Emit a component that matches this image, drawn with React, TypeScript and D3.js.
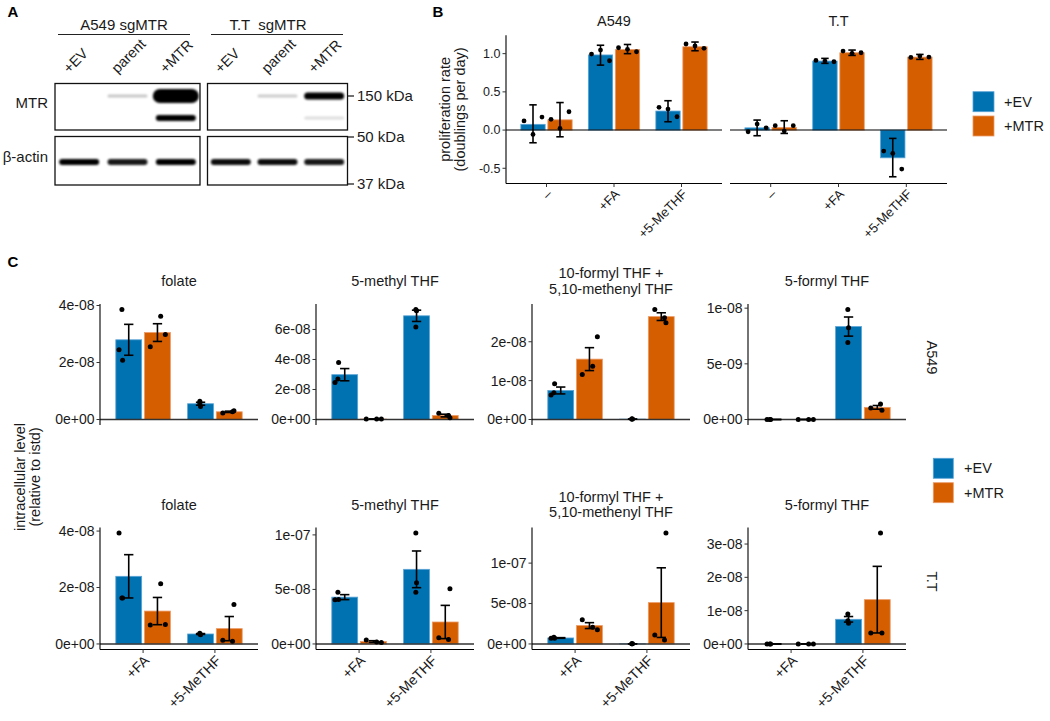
import React from "react";
import * as d3 from "d3";

const FONT = "'Liberation Sans', Arimo, Arial, Helvetica, sans-serif";
const COLORS = ["#0072B2", "#D55E00"];
const EDGES = ["#5aa3d6", "#ec9a66"];
const TXT = "#1a1a1a";

// ---------------- Panel A : western blot ----------------
const blotTitles = ["A549 sgMTR", "T.T  sgMTR"];
const blotLanes = ["+EV", "parent", "+MTR"];
const blotRows = ["MTR", "β-actin"];
// band darkness per blot (A549, T.T) and lane
const mtrUpperBand = [[0, 0.22, 1], [0, 0.2, 1]];
const mtrLowerBand = [[0, 0, 1], [0, 0, 0.13]];
const actinBand = [[1, 0.9, 1], [0.95, 0.95, 0.9]];
const markerLabels = ["150 kDa", "50 kDa", "37 kDa"];

// ---------------- Panel B : proliferation ----------------
const groups = ["+EV", "+MTR"];
const profCells = ["A549", "T.T"];
const profConds = ["–", "+FA", "+5-MeTHF"];
// [cell][group][condition]
const profMean = [
  [[0.075, 0.983, 0.249], [0.134, 1.053, 1.09]],
  [[0.029, 0.903, -0.363], [0.034, 1.012, 0.955]],
];
const profLow = [
  [[-0.166, 0.85, 0.109], [-0.088, 1.0, 1.038]],
  [[-0.074, 0.873, -0.611], [-0.044, 0.977, 0.925]],
];
const profHigh = [
  [[0.33, 1.11, 0.384], [0.36, 1.12, 1.152]],
  [[0.131, 0.938, -0.109], [0.122, 1.047, 0.99]],
];
// [cell][group][condition] -> replicates
const profPoints = [
  [
    [[0.12, -0.057, 0.17], [0.995, 1.047, 0.907], [0.297, 0.275, 0.174]],
    [[0.14, 0.022, 0.24], [1.077, 1.056, 1.025], [1.126, 1.1, 1.07]],
  ],
  [
    [[-0.022, 0.079, 0.03], [0.912, 0.903, 0.894], [-0.275, -0.305, -0.51]],
    [[0.057, -0.013, 0.057], [1.034, 1.004, 1.012], [0.951, 0.968, 0.955]],
  ],
];
const profTicks = [-0.5, 0, 0.5, 1.0];
const profTickLabels = ["-0.5", "0.0", "0.5", "1.0"];
const profJitter = [-0.133, 0, 0.133];

// ---------------- Panel C : folate species ----------------
const metabolites = ["folate", "5-methyl THF", "10-formyl THF +\n5,10-methenyl THF", "5-formyl THF"];
const metCells = ["A549", "T.T"];
const treatments = ["+FA", "+5-MeTHF"];
const UNIT = 1e-8;
// [metabolite][group][treatment] -> replicates, in units of 1e-8
const a549Points = [
  [[[2.45, 3.86, 2.08], [0.64, 0.46, 0.56]], [[2.55, 3.62, 2.98], [0.23, 0.27, 0.31]]],
  [[[2.47, 2.7, 3.79], [7.33, 7.24, 6.16]], [[0.03, 0.03, 0.03], [0.42, 0.26, 0.11]]],
  [[[0.63, 0.69, 0.92], [0.01, 0.01, 0.01]], [[1.16, 1.37, 2.13], [2.83, 2.62, 2.49]]],
  [[[0, 0, 0], [0.988, 0.825, 0.691]], [[0, 0, 0], [0.104, 0.14, 0.083]]],
];
const ttPoints = [
  [[[3.93, 1.63, 1.63], [0.38, 0.33, 0.35]], [[0.675, 2.13, 0.69], [0.13, 0.1, 1.4]]],
  [[[4.05, 4.75, 4.08], [10.17, 5.61, 4.75]], [[0.37, 0.17, 0.13], [0.58, 0.4, 5.06]]],
  [[[0.7, 0.82, 0.7], [0.02, 0.02, 0.02]], [[2.98, 2.06, 1.77], [1.12, 0.5, 13.72]]],
  [[[0, 0, 0], [0.9, 0.62, 0.7]], [[0, 0, 0], [0.33, 3.33, 0.33]]],
];
const metPoints = [a549Points, ttPoints];
// y ticks per [cell][metabolite], in units of 1e-8
const metTicks = [
  [[0, 2, 4], [0, 2, 4, 6], [0, 1, 2], [0, 0.5, 1]],
  [[0, 2, 4], [0, 5, 10], [0, 5, 10], [0, 1, 2, 3]],
];
// horizontal jitter per [group][treatment] (fraction of category step)
const metJitter = [
  [[-0.135, -0.095, -0.085], [-0.01, 0, -0.01]],
  [[-0.1, 0.045, 0.11], [-0.09, 0.045, 0.065]],
];

function sci(v: number): string {
  if (Math.abs(v) < 1e-20) return "0e+00";
  const e = Math.floor(Math.log10(Math.abs(v)) + 1e-9);
  const m = Math.round(v / Math.pow(10, e));
  const s = e < 0 ? "-" : "+";
  return `${m}e${s}${String(Math.abs(e)).padStart(2, "0")}`;
}

// ---------------- layout ----------------
const B = { top: 35.3, bottom: 183.5, panels: [[506, 722], [730, 947]] };
const C = { x0: 100, colStep: 216, width: 158, rows: [[304, 425], [527.5, 649.5]] };

function BlotPanel() {
  const boxes = [[55, 200], [207.5, 347.5]];
  const rowBoxes = [[83.5, 130], [136.5, 185]];
  const els: React.ReactNode[] = [];
  const titleX = [124, 268];
  const lineX = [[58, 190], [211, 343]];
  boxes.forEach(([x0, x1], bi) => {
    const lane = d3.scalePoint<string>().domain(blotLanes).range([x0, x1]).padding(0.5);
    els.push(
      <text key={`bt${bi}`} x={titleX[bi]} y={30} fontSize={15} textAnchor="middle" fill={TXT} style={{ whiteSpace: "pre" }}>
        {blotTitles[bi]}
      </text>,
      <line key={`bl${bi}`} x1={lineX[bi][0]} x2={lineX[bi][1]} y1={34.5} y2={34.5} stroke="#222" strokeWidth={1} />
    );
    blotLanes.forEach((ln, li) => {
      const cx = lane(ln)!;
      els.push(
        <text key={`ln${bi}${li}`} x={cx - 10} y={74} fontSize={14.5} fill={TXT} transform={`rotate(-45 ${cx - 10} 74)`}>
          {ln}
        </text>
      );
      const up = mtrUpperBand[bi][li];
      if (up > 0) {
        const strong = up >= 1;
        const h = strong ? (bi === 0 ? 14 : 7) : 3;
        const w = strong && bi === 0 ? 46 : 40;
        els.push(<rect key={`mu${bi}${li}`} x={cx - w / 2} y={96 - h / 2} width={w} height={h} rx={h / 2} fill="#000" opacity={up} filter="url(#blur)" />);
      }
      const lo = mtrLowerBand[bi][li];
      if (lo > 0) {
        const h = lo >= 1 ? 6 : 3;
        els.push(<rect key={`ml${bi}${li}`} x={cx - 20} y={118 - h / 2} width={40} height={h} rx={h / 2} fill="#000" opacity={lo} filter="url(#blur)" />);
      }
      const ac = actinBand[bi][li];
      els.push(<rect key={`ac${bi}${li}`} x={cx - 20} y={162 - 3} width={40} height={6} rx={3} fill="#000" opacity={ac} filter="url(#blur)" />);
    });
    rowBoxes.forEach(([y0, y1], ri) => {
      els.push(<rect key={`bx${bi}${ri}`} x={x0} y={y0} width={x1 - x0} height={y1 - y0} fill="none" stroke="#111" strokeWidth={1.3} />);
    });
  });
  blotRows.forEach((r, ri) => {
    const [y0, y1] = rowBoxes[ri];
    els.push(
      <text key={`rl${ri}`} x={48} y={(y0 + y1) / 2 - 4} dy="0.35em" fontSize={15} textAnchor="end" fill={TXT}>
        {r}
      </text>
    );
  });
  const markerY = [96, 137, 184];
  markerLabels.forEach((m, mi) => {
    els.push(
      <line key={`mk${mi}`} x1={348} x2={354} y1={markerY[mi]} y2={markerY[mi]} stroke="#111" strokeWidth={1.2} />,
      <text key={`mt${mi}`} x={357} y={markerY[mi]} dy="0.35em" fontSize={15} fill={TXT}>
        {m}
      </text>
    );
  });
  return <g>{els}</g>;
}

function ProliferationPanel() {
  const all: number[] = [0];
  profCells.forEach((_, ci) =>
    groups.forEach((_, gi) =>
      profConds.forEach((_, ki) => {
        all.push(profLow[ci][gi][ki], profHigh[ci][gi][ki], profMean[ci][gi][ki], ...profPoints[ci][gi][ki]);
      })
    )
  );
  const [lo, hi] = d3.extent(all) as [number, number];
  const pad = (hi - lo) * 0.05;
  const y = d3.scaleLinear().domain([lo - pad, hi + pad]).range([B.bottom, B.top]);
  const els: React.ReactNode[] = [];
  profCells.forEach((cell, ci) => {
    const [x0, x1] = B.panels[ci];
    const x = d3.scalePoint<string>().domain(profConds).range([x0, x1]).padding(0.6);
    const step = x.step();
    const bw = 0.36 * step;
    els.push(
      <text key={`t${ci}`} x={(x0 + x1) / 2} y={B.top - 14.6} dy="0.35em" fontSize={14.5} textAnchor="middle" fill={TXT}>
        {cell}
      </text>
    );
    profConds.forEach((cond, ki) => {
      groups.forEach((g, gi) => {
        const cx = x(cond)! + (gi === 0 ? -0.2 : 0.2) * step;
        const m = profMean[ci][gi][ki];
        els.push(
          <rect key={`b${ci}${ki}${gi}`} x={cx - bw / 2} y={y(Math.max(0, m))} width={bw} height={Math.abs(y(m) - y(0))} fill={COLORS[gi]} stroke={EDGES[gi]} strokeWidth={0.8} />
        );
      });
    });
    els.push(<line key={`h${ci}`} x1={x0} x2={x1} y1={y(0)} y2={y(0)} stroke="#000" strokeWidth={1.1} />);
    profConds.forEach((cond, ki) => {
      groups.forEach((g, gi) => {
        const cx = x(cond)! + (gi === 0 ? -0.2 : 0.2) * step;
        const yl = y(profLow[ci][gi][ki]);
        const yh = y(profHigh[ci][gi][ki]);
        const cw = 0.055 * step;
        els.push(
          <g key={`e${ci}${ki}${gi}`} stroke="#000" strokeWidth={1.6}>
            <line x1={cx} x2={cx} y1={yl} y2={yh} />
            <line x1={cx - cw} x2={cx + cw} y1={yl} y2={yl} />
            <line x1={cx - cw} x2={cx + cw} y1={yh} y2={yh} />
          </g>
        );
        profPoints[ci][gi][ki].forEach((v, pi) => {
          els.push(<circle key={`p${ci}${ki}${gi}${pi}`} cx={cx + profJitter[pi] * step} cy={y(v)} r={2.4} fill="#000" />);
        });
      });
    });
    // x axis
    els.push(<line key={`xa${ci}`} x1={x0} x2={x1} y1={B.bottom} y2={B.bottom} stroke="#000" strokeWidth={1.1} />);
    profConds.forEach((cond, ki) => {
      const tx = x(cond)!;
      els.push(
        <line key={`xt${ci}${ki}`} x1={tx} x2={tx} y1={B.bottom} y2={B.bottom + 3.5} stroke="#333" strokeWidth={1} />,
        <text key={`xl${ci}${ki}`} x={tx} y={B.bottom + 5} dy="0.7em" fontSize={13} textAnchor="end" fill={TXT} transform={`rotate(-45 ${tx} ${B.bottom + 5})`}>
          {cond}
        </text>
      );
    });
    if (ci === 0) {
      els.push(<line key="ya" x1={x0} x2={x0} y1={B.top} y2={B.bottom} stroke="#000" strokeWidth={1.1} />);
      profTicks.forEach((t, ti) => {
        els.push(
          <line key={`yt${ti}`} x1={x0 - 3.5} x2={x0} y1={y(t)} y2={y(t)} stroke="#333" strokeWidth={1} />,
          <text key={`yl${ti}`} x={x0 - 5.5} y={y(t)} dy="0.35em" fontSize={12.5} textAnchor="end" fill={TXT}>
            {profTickLabels[ti]}
          </text>
        );
      });
    }
  });
  const cy = (B.top + B.bottom) / 2;
  els.push(
    <text key="yt1" x={444.5} y={cy} dy="0.35em" fontSize={14.5} textAnchor="middle" fill={TXT} transform={`rotate(-90 444.5 ${cy})`}>
      proliferation rate
    </text>,
    <text key="yt2" x={459.5} y={cy} dy="0.35em" fontSize={14.5} textAnchor="middle" fill={TXT} transform={`rotate(-90 459.5 ${cy})`}>
      (doublings per day)
    </text>
  );
  groups.forEach((g, gi) => {
    const ly = 91.7 + gi * 24.3;
    els.push(
      <rect key={`lg${gi}`} x={973} y={ly} width={21} height={20} fill={COLORS[gi]} stroke={EDGES[gi]} strokeWidth={0.8} />,
      <text key={`lt${gi}`} x={1004} y={ly + 10} dy="0.35em" fontSize={14.5} fill={TXT}>
        {g}
      </text>
    );
  });
  return <g>{els}</g>;
}

function MetabolitePanel({ ci, mi }: { ci: number; mi: number }) {
  const [top, bottom] = C.rows[ci];
  const x0 = C.x0 + mi * C.colStep;
  const x1 = x0 + C.width;
  const pts = metPoints[ci][mi].map((byGroup) => byGroup.map((byTreat) => byTreat.map((v) => v * UNIT)));
  const stats = pts.map((byGroup) =>
    byGroup.map((vals) => {
      const m = d3.mean(vals)!;
      const se = (d3.deviation(vals) || 0) / Math.sqrt(vals.length);
      return { m, lo: m - se, hi: m + se };
    })
  );
  const all: number[] = [0];
  pts.forEach((bg, gi) => bg.forEach((vals, ti) => all.push(...vals, stats[gi][ti].hi, stats[gi][ti].lo)));
  const [lo, hi] = d3.extent(all) as [number, number];
  const pad = (hi - lo) * 0.05;
  const y = d3.scaleLinear().domain([lo - pad, hi + pad]).range([bottom, top]);
  const x = d3.scalePoint<string>().domain(treatments).range([x0, x1]).padding(0.6);
  const step = x.step();
  const bw = 0.36 * step;
  const els: React.ReactNode[] = [];
  const lines = metabolites[mi].split("\n");
  const tc = top - 23;
  lines.forEach((l, li) => {
    els.push(
      <text key={`ti${li}`} x={(x0 + x1) / 2} y={tc + (li - (lines.length - 1) / 2) * 15.6} dy="0.35em" fontSize={14.5} textAnchor="middle" fill={TXT}>
        {l}
      </text>
    );
  });
  treatments.forEach((t, ti) =>
    groups.forEach((g, gi) => {
      const cx = x(t)! + (gi === 0 ? -0.2 : 0.2) * step;
      const m = stats[gi][ti].m;
      els.push(
        <rect key={`b${ti}${gi}`} x={cx - bw / 2} y={y(Math.max(0, m))} width={bw} height={Math.abs(y(m) - y(0))} fill={COLORS[gi]} stroke={EDGES[gi]} strokeWidth={0.8} />
      );
    })
  );
  els.push(<line key="h0" x1={x0} x2={x1} y1={y(0)} y2={y(0)} stroke="#333" strokeWidth={1.5} />);
  treatments.forEach((t, ti) =>
    groups.forEach((g, gi) => {
      const cx = x(t)! + (gi === 0 ? -0.2 : 0.2) * step;
      const s = stats[gi][ti];
      const cw = 0.065 * step;
      els.push(
        <g key={`e${ti}${gi}`} stroke="#000" strokeWidth={1.6}>
          <line x1={cx} x2={cx} y1={y(s.lo)} y2={y(s.hi)} />
          <line x1={cx - cw} x2={cx + cw} y1={y(s.lo)} y2={y(s.lo)} />
          <line x1={cx - cw} x2={cx + cw} y1={y(s.hi)} y2={y(s.hi)} />
        </g>
      );
      pts[gi][ti].forEach((v, pi) => {
        els.push(<circle key={`p${ti}${gi}${pi}`} cx={cx + metJitter[gi][ti][pi] * step} cy={y(v)} r={2.5} fill="#000" />);
      });
    })
  );
  // y axis
  els.push(<line key="ya" x1={x0} x2={x0} y1={top} y2={bottom} stroke="#000" strokeWidth={1.1} />);
  metTicks[ci][mi].forEach((tv, k) => {
    const v = tv * UNIT;
    els.push(
      <line key={`yt${k}`} x1={x0 - 3.5} x2={x0} y1={y(v)} y2={y(v)} stroke="#333" strokeWidth={1} />,
      <text key={`yl${k}`} x={x0 - 5.5} y={y(v)} dy="0.35em" fontSize={14} textAnchor="end" fill={TXT}>
        {sci(v)}
      </text>
    );
  });
  if (ci === metCells.length - 1) {
    els.push(<line key="xa" x1={x0} x2={x1} y1={bottom} y2={bottom} stroke="#000" strokeWidth={1.1} />);
    treatments.forEach((t, ti) => {
      const tx = x(t)!;
      els.push(
        <line key={`xt${ti}`} x1={tx} x2={tx} y1={bottom} y2={bottom + 3.5} stroke="#333" strokeWidth={1} />,
        <text key={`xl${ti}`} x={tx} y={bottom + 5} dy="0.7em" fontSize={14} textAnchor="end" fill={TXT} transform={`rotate(-45 ${tx} ${bottom + 5})`}>
          {t}
        </text>
      );
    });
  }
  if (mi === metabolites.length - 1) {
    const sx = 932;
    const sy = (top + bottom) / 2 - 7;
    els.push(
      <text key="strip" x={sx} y={sy} dy="0.35em" fontSize={14.5} textAnchor="middle" fill={TXT} transform={`rotate(90 ${sx} ${sy})`}>
        {metCells[ci]}
      </text>
    );
  }
  return <g>{els}</g>;
}

function MetabolitesPanel() {
  const els: React.ReactNode[] = [];
  metCells.forEach((_, ci) =>
    metabolites.forEach((_, mi) => els.push(<MetabolitePanel key={`${ci}-${mi}`} ci={ci} mi={mi} />))
  );
  const cy = 477;
  els.push(
    <text key="yt1" x={19.5} y={cy} dy="0.35em" fontSize={14.5} textAnchor="middle" fill={TXT} transform={`rotate(-90 19.5 ${cy})`}>
      intracellular level
    </text>,
    <text key="yt2" x={35} y={cy} dy="0.35em" fontSize={14.5} textAnchor="middle" fill={TXT} transform={`rotate(-90 35 ${cy})`}>
      (relative to istd)
    </text>
  );
  groups.forEach((g, gi) => {
    const ly = 458.3 + gi * 24.4;
    els.push(
      <rect key={`lg${gi}`} x={933.3} y={ly} width={20} height={20} fill={COLORS[gi]} stroke={EDGES[gi]} strokeWidth={0.8} />,
      <text key={`lt${gi}`} x={964} y={ly + 10} dy="0.35em" fontSize={14.5} fill={TXT}>
        {g}
      </text>
    );
  });
  return <g>{els}</g>;
}

export default function App() {
  return (
    <svg
      width={1050}
      height={721}
      viewBox="0 0 1050 721"
      fontFamily={FONT}
      style={{ position: "absolute", left: 0, top: 0, display: "block", background: "#fff" }}
    >
      <defs>
        <filter id="blur" x="-20%" y="-100%" width="140%" height="300%">
          <feGaussianBlur stdDeviation="1.1" />
        </filter>
      </defs>
      <rect x={0} y={0} width={1050} height={721} fill="#fff" />
      <text x={13} y={17} fontSize={15} fontWeight="bold" textAnchor="middle" fill="#000">A</text>
      <text x={438} y={17} fontSize={15} fontWeight="bold" textAnchor="middle" fill="#000">B</text>
      <text x={13} y={267} fontSize={15} fontWeight="bold" textAnchor="middle" fill="#000">C</text>
      <BlotPanel />
      <ProliferationPanel />
      <MetabolitesPanel />
    </svg>
  );
}
